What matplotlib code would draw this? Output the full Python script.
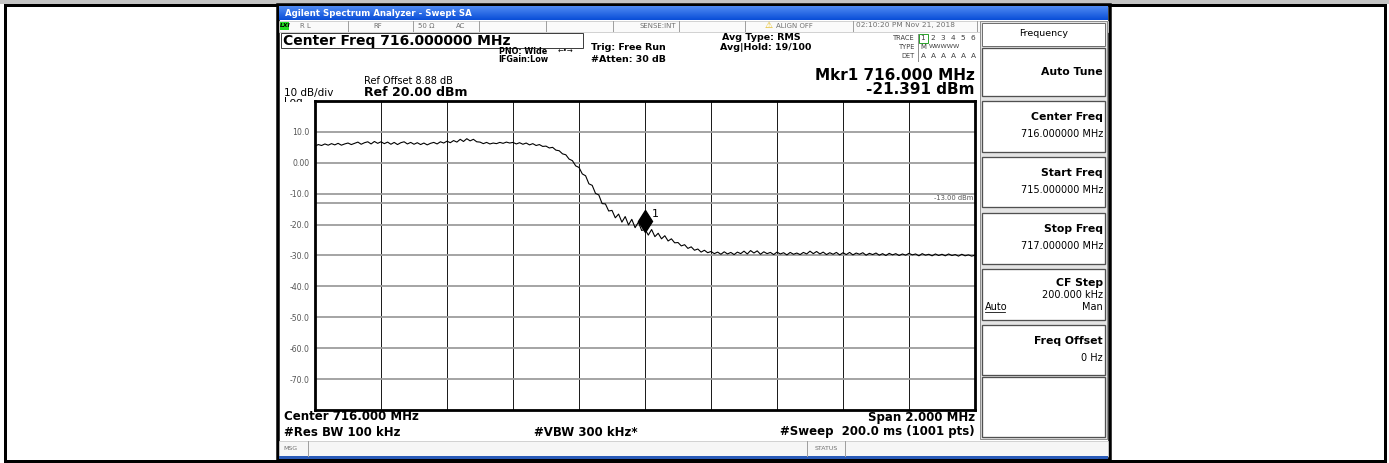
#!/usr/bin/env python3
"""
Spectrum analyzer screenshot - swept SA, 715-717 MHz
"""

import numpy as np
import matplotlib.pyplot as plt
from matplotlib.patches import Rectangle
from matplotlib.colors import LinearSegmentedColormap
from matplotlib import transforms

plt.rcParams['font.family'] = ['DejaVu Sans']

W, H = 1389, 463
PX = 72.0 / 100  # points per pixel at dpi 100

# trace (dBm), equally spaced over the span
trace_dbm = [
    5.4, 5.9, 5.6, 6.1, 5.7, 6.2, 5.8, 6.3, 5.7, 6.1,
    6.4, 5.9, 6.3, 6.7, 6.0, 6.5, 6.8, 6.1, 6.9, 6.3,
    6.8, 6.2, 6.7, 6.0, 6.6, 5.9, 6.5, 6.8, 6.1, 6.6,
    6.0, 6.5, 5.9, 6.4, 5.8, 6.3, 6.6, 6.1, 6.8, 6.4,
    7.0, 6.5, 7.2, 6.7, 7.6, 6.9, 7.8, 7.1, 7.6, 6.8,
    6.7, 6.2, 6.6, 6.1, 6.4, 6.2, 6.6, 6.3, 6.7, 6.4,
    6.6, 6.1, 6.5, 6.0, 6.4, 5.8, 6.2, 5.6, 5.9, 5.3,
    5.4, 4.8, 5.0, 4.1, 3.9, 2.9, 2.6, 1.2, 0.7, -1.0,
    -1.5, -3.6, -4.2, -6.8, -7.3, -9.9, -10.4, -13.2, -13.3, -15.6,
    -15.4, -17.8, -16.6, -19.2, -17.4, -20.1, -18.3, -21.0, -19.2, -21.9,
    -21.5, -23.4, -21.6, -23.9, -22.8, -24.6, -23.6, -25.3, -24.6, -25.9,
    -25.8, -26.9, -26.5, -27.7, -27.2, -28.3, -27.9, -28.9, -28.3, -29.1,
    -28.7, -29.4, -28.9, -29.6, -28.8, -29.5, -29.0, -29.7, -28.9, -29.4,
    -28.6, -29.5, -28.4, -29.2, -28.5, -29.6, -28.8, -29.4, -29.0, -29.7,
    -28.9, -29.5, -29.1, -29.8, -29.0, -29.6, -29.2, -29.7, -29.0, -29.5,
    -28.6, -29.4, -28.7, -29.5, -28.9, -29.7, -29.1, -29.6, -29.0, -29.8,
    -29.1, -29.7, -29.0, -29.8, -29.2, -29.6, -29.1, -29.9, -29.3, -29.7,
    -29.2, -29.9, -29.4, -30.0, -29.3, -29.8, -29.4, -30.0, -29.5, -29.9,
    -29.3, -29.8, -29.5, -30.1, -29.4, -29.9, -29.6, -30.1, -29.5, -30.0,
    -29.6, -30.1, -29.5, -30.0, -29.7, -30.2, -29.6, -30.1, -29.8, -30.2,
    -29.9,
]
freq_start, freq_stop = 715.0, 717.0
freq_mhz = np.linspace(freq_start, freq_stop, len(trace_dbm))

ref_level, bottom_level = 20.0, -80.0
x_divs = [715.0, 715.2, 715.4, 715.6, 715.8, 716.0, 716.2, 716.4, 716.6, 716.8, 717.0]
y_ticks = [10, 0, -10, -20, -30, -40, -50, -60, -70]
y_tick_labels = ['10.0', '0.00', '-10.0', '-20.0', '-30.0', '-40.0', '-50.0', '-60.0', '-70.0']
display_line = -13.0
mkr_freq, mkr_dbm = 716.0, -21.391

softkey_titles = ['Auto Tune', 'Center Freq', 'Start Freq', 'Stop Freq', 'CF Step', 'Freq Offset', '']
softkey_values = ['', '716.000000 MHz', '715.000000 MHz', '717.000000 MHz', '200.000 kHz', '0 Hz', '']

fig = plt.figure(figsize=(W / 100, H / 100), dpi=100)
bg = fig.add_axes([0, 0, 1, 1])
bg.axis('off')


def box(x0, y0, x1, y1, fc='none', ec='none', lw=1.0, z=1):
    bg.add_patch(Rectangle((x0, y0), x1 - x0, y1 - y0, facecolor=fc,
                           edgecolor=ec, linewidth=lw * PX, zorder=z))


def vline(x, y0, y1, color='#a0a0a0', lw=1.0):
    bg.plot([x, x], [y0, y1], color=color, lw=lw * PX, zorder=3)


def txt(x, y, s, size, ha='left', weight='normal', color='black', **kw):
    bg.text(x, y, s, fontsize=size, ha=ha, va='center', fontweight=weight,
            color=color, zorder=4, **kw)


# page and screenshot frames
box(0, 0, W, 3.5, fc='#c4c4c4')
box(4.5, 4.5, 1385, 461, ec='black', lw=3)
box(277.5, 5, 1109.5, 460, fc='white', ec='black', lw=3.5)

# title bar
grad = np.linspace(0, 1, 20).reshape(-1, 1)
bar_cmap = LinearSegmentedColormap.from_list('bar', ['#4f8af3', '#0a4fd8'])
bg.imshow(grad, extent=(279, 1108, 20, 6.5), cmap=bar_cmap, aspect='auto', zorder=2)
txt(285, 13.5, 'Agilent Spectrum Analyzer - Swept SA', 6.2, weight='bold', color='white')

# status row
box(279, 20.5, 1108, 31.5, fc='#fafafa', ec='#c8c8c8', lw=0.8)
for sx in [348, 413, 479, 546, 613, 679, 745, 853, 977]:
    vline(sx, 21, 31)
box(280, 21.5, 289, 29.5, fc='#22dd22', z=3)
txt(280.3, 25.5, 'LXI', 4.3, weight='bold', style='italic')
grey = '#707070'
txt(300, 25.5, 'R L', 5, color=grey)
txt(373, 25.5, 'RF', 5, color=grey)
txt(418, 25.5, '50 Ω', 5, color=grey)
txt(456, 25.5, 'AC', 5, color=grey)
txt(676, 25.5, 'SENSE:INT', 5, color=grey, ha='right')
txt(765, 25.5, '⚠', 6.5, color='#e3b400')
txt(776, 25.5, 'ALIGN OFF', 5, color=grey)
txt(856, 25.5, '02:10:20 PM Nov 21, 2018', 5.3, color=grey)

# header text
box(281, 33, 583, 47.5, ec='#404040', lw=1)
txt(283, 40.5, 'Center Freq 716.000000 MHz', 10, weight='bold')
txt(499, 51, 'PNO: Wide', 5.8, weight='bold')
txt(558, 51, '←•→', 5)
txt(498, 60, 'IFGain:Low', 5.8, weight='bold')
txt(591, 48, 'Trig: Free Run', 6.8, weight='bold')
txt(591, 59, '#Atten: 30 dB', 6.8, weight='bold')
txt(722, 38, 'Avg Type: RMS', 6.8, weight='bold')
txt(720, 48, 'Avg|Hold: 19/100', 6.8, weight='bold')

txt(915, 38, 'TRACE', 4.8, ha='right', color='#404040')
txt(915, 47, 'TYPE', 4.8, ha='right', color='#404040')
txt(915, 56, 'DET', 4.8, ha='right', color='#404040')
vline(918, 34, 61, color='#909090')
box(918.5, 33.5, 927.5, 43, ec='#2fa52f', lw=1)
for k, d in enumerate('123456'):
    txt(920.5 + 10 * k, 38, d, 5.3, color='#404040')
txt(920, 47, 'M', 5, color='#404040')
txt(929, 47, 'WWWWW', 4.6, color='#404040')
for k in range(6):
    txt(920.5 + 10 * k, 56, 'A', 5.3, color='#404040')

txt(364, 81, 'Ref Offset 8.88 dB', 7)
txt(364, 92, 'Ref 20.00 dBm', 9, weight='bold')
txt(284, 93, '10 dB/div', 7.5)
txt(284, 102, 'Log', 7.5)
box(281, 101.5, 313, 107, fc='white', z=5)

txt(975, 76, 'Mkr1 716.000 MHz', 11, ha='right', weight='bold')
txt(975, 90, '-21.391 dBm', 11, ha='right', weight='bold')

# footer
txt(284, 417, 'Center 716.000 MHz', 8.5, weight='bold')
txt(284, 432, '#Res BW 100 kHz', 8.5, weight='bold')
txt(534, 432, '#VBW 300 kHz*', 8.5, weight='bold')
txt(975, 418, 'Span 2.000 MHz', 8.5, ha='right', weight='bold')
txt(975, 432, '#Sweep  200.0 ms (1001 pts)', 8.5, ha='right', weight='bold')

box(279, 441, 1108, 456, fc='#f6f6f6', ec='#c8c8c8', lw=0.8)
vline(308, 441, 456)
vline(807, 441, 456)
vline(845, 441, 456)
txt(283, 449, 'MSG', 4.5, color=grey)
txt(826, 449, 'STATUS', 4.5, color=grey, ha='center')
box(279, 456, 1108, 458.5, fc='#2a5bb8')

# softkey panel
box(980, 21, 1107, 439, fc='#e4e4e4', ec='#909090', lw=1)
box(982, 22.5, 1105, 46, fc='white', ec='#707070', lw=1)
txt(1044, 34, 'Frequency', 6.8, ha='center')
key_rows = [(48, 96), (101, 152), (157, 207), (213, 264), (269, 320), (325, 375), (377, 437)]
for (top, bot), title, value in zip(key_rows, softkey_titles, softkey_values):
    box(982, top, 1105, bot, fc='white', ec='#505050', lw=1.3)
    if not title:
        continue
    if not value:
        txt(1103, (top + bot) / 2, title, 7.8, ha='right', weight='bold')
    elif title == 'CF Step':
        txt(1103, top + 14, title, 7.8, ha='right', weight='bold')
        txt(1103, top + 26, value, 7, ha='right')
        txt(1103, top + 38, 'Man', 7, ha='right')
        txt(985, top + 38, 'Auto', 7)
        bg.plot([985, 1005], [top + 42.5, top + 42.5], color='black', lw=0.8 * PX, zorder=4)
    else:
        txt(1103, top + 16, title, 7.8, ha='right', weight='bold')
        txt(1103, top + 33, value, 7, ha='right')

bg.set_xlim(0, W)
bg.set_ylim(H, 0)

# trace graticule
ax = fig.add_axes([315 / W, 1 - 410 / H, 660 / W, 309 / H])
ax.set_xlim(freq_start, freq_stop)
ax.set_ylim(bottom_level, ref_level)
ax.set_xticks(x_divs, labels=[])
ax.set_yticks(y_ticks, labels=y_tick_labels)
ax.tick_params(axis='both', length=0)
ax.tick_params(axis='y', pad=4, labelsize=5.6, labelcolor='#555555')
ax.xaxis.grid(True, color='#1e1e1e', lw=1.0 * PX)
ax.yaxis.grid(True, color='#9c9c9c', lw=1.8 * PX)
ax.set_axisbelow(True)
for sp in ax.spines.values():
    sp.set_linewidth(2.8 * PX)
    sp.set_color('black')

ax.axhline(display_line, color='#9c9c9c', lw=1.8 * PX, zorder=1)
ax.text(freq_stop - 0.006, display_line + 0.6, '-13.00 dBm', fontsize=4.9,
        color='#555555', ha='right', va='bottom')

ax.plot(freq_mhz, trace_dbm, color='black', lw=1.1 * PX, zorder=3)

mk_tr = transforms.offset_copy(ax.transData, fig=fig, y=8, units='dots')
ax.plot(mkr_freq, mkr_dbm, marker='d', ms=11.5, color='black', transform=mk_tr, zorder=4)
ax.annotate('1', (mkr_freq, mkr_dbm), xytext=(5, 11), textcoords='offset points',
            fontsize=8, va='center')

fig.savefig('out.png', dpi=100)
